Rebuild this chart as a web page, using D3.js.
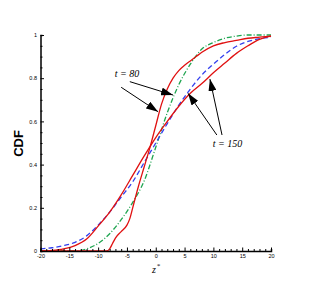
<!DOCTYPE html>
<html>
<head>
<meta charset="utf-8">
<script src="https://cdn.jsdelivr.net/npm/d3@7.9.0/dist/d3.min.js"></script>
<style>
  body { margin: 0; background: #fff; }
  svg { display: block; }
  .tick text { font-family: "Liberation Sans", Arial, sans-serif; font-size: 5.5px; fill: #000; }
</style>
</head>
<body>
<svg id="chart" width="310" height="283"></svg>
<script>
// t = 80, solid red (steep one)
const z80 = [-20, -8.5, -8, -7.5, -7, -6, -5, -4.5, -4, -3, -2, -1, 0, 1, 2, 3, 4, 5, 6, 7, 8, 10, 12, 14, 16, 18, 20];
const cdf80 = [0, 0, 0.01, 0.035, 0.06, 0.09, 0.12, 0.15, 0.2, 0.3, 0.39, 0.48, 0.58, 0.68, 0.75, 0.8, 0.835, 0.86, 0.88, 0.9, 0.92, 0.95, 0.965, 0.975, 0.985, 0.99, 0.995];

// t = 150, solid red (wide one)
const z150 = [-20, -18, -16, -14, -12, -10, -8, -6, -4, -2, 0, 2, 4, 6, 8, 10, 12, 14, 16, 18, 20];
const cdf150 = [0, 0.003, 0.01, 0.025, 0.055, 0.115, 0.18, 0.26, 0.35, 0.44, 0.525, 0.6, 0.67, 0.73, 0.775, 0.825, 0.87, 0.915, 0.95, 0.98, 0.995];

// blue dashed
const zBlue = [-20, -18, -16, -14, -12, -10, -8, -6, -4, -2, 0, 2, 4, 6, 8, 10, 12, 14, 16, 18, 20];
const cdfBlue = [0.01, 0.015, 0.025, 0.04, 0.07, 0.12, 0.18, 0.25, 0.32, 0.41, 0.5, 0.59, 0.675, 0.75, 0.815, 0.865, 0.91, 0.948, 0.97, 0.983, 0.99];

// green dash-dot
const zGreen = [-20, -14, -12, -10, -8, -6, -4, -2, 0, 2, 4, 6, 8, 10, 12, 14, 16, 18, 20];
const cdfGreen = [0, 0, 0.01, 0.035, 0.08, 0.145, 0.225, 0.325, 0.48, 0.64, 0.77, 0.865, 0.935, 0.965, 0.985, 0.995, 1, 1, 1];

const xTicks = [-20, -15, -10, -5, 0, 5, 10, 15, 20];
const yTicks = [0, 0.2, 0.4, 0.6, 0.8, 1];

// annotation arrows, in data units: [tailZ, tailC, tipZ, tipC]
const arrows80 = [[-4.5, 0.784, 3.0, 0.722], [-6.0, 0.758, 0.4, 0.645]];
const arrows150 = [[10.6, 0.537, 5.6, 0.73], [11.5, 0.537, 9.4, 0.796]];
const labels = [{ t: "80", z: -7.1, c: 0.807 }, { t: "150", z: 9.9, c: 0.483 }];

const svg = d3.select('#chart');
const x = d3.scaleLinear().domain([-20, 20]).range([40.5, 271]);
const y = d3.scaleLinear().domain([0, 1]).range([251, 35]);

const line = d3.line()
  .x(d => x(d[0]))
  .y(d => y(d[1]))
  .curve(d3.curveMonotoneX);

const series = [
  { z: zGreen, c: cdfGreen, color: '#1fa550', dash: '5,2,1,2' },
  { z: zBlue, c: cdfBlue, color: '#3340ee', dash: '5,3' },
  { z: z150, c: cdf150, color: '#e01010', dash: null },
  { z: z80, c: cdf80, color: '#e01010', dash: null }
];

series.forEach(s => {
  svg.append('path')
    .attr('d', line(s.z.map((v, i) => [v, s.c[i]])))
    .attr('fill', 'none')
    .attr('stroke', s.color)
    .attr('stroke-width', 1.3)
    .attr('stroke-dasharray', s.dash);
});

// axes (ticks pointing inward)
const xAxis = d3.axisBottom(x).tickValues(d3.range(-20, 21, 1))
  .tickSize(-2)
  .tickFormat(d => xTicks.includes(d) ? d : '');
const gx = svg.append('g').attr('transform', `translate(0,${y(0)})`).call(xAxis);
gx.selectAll('.tick line').attr('y2', d => xTicks.includes(d) ? -3.5 : -2);
gx.selectAll('.tick text').attr('y', 3.5);

const yAxis = d3.axisLeft(y).tickValues(d3.range(0, 1.0001, 0.05).map(v => +v.toFixed(2)))
  .tickSize(-2)
  .tickFormat(d => yTicks.includes(d) ? d : '');
const gy = svg.append('g').attr('transform', `translate(${x(-20)},0)`).call(yAxis);
gy.selectAll('.tick line').attr('x2', d => yTicks.includes(d) ? 3.5 : 2);
gy.selectAll('.tick text').attr('x', -3.5);

[gx, gy].forEach(g => {
  g.select('.domain').attr('stroke', '#000').attr('stroke-width', 1.5);
  g.selectAll('.tick line').attr('stroke', '#000').attr('stroke-width', 1);
});

// axis titles
svg.append('text')
  .attr('transform', `translate(23,143.5) rotate(-90)`)
  .attr('text-anchor', 'middle')
  .attr('font-family', '"Liberation Sans", Arial, sans-serif')
  .attr('font-weight', 'bold')
  .attr('font-size', 13)
  .text('CDF');

const zl = svg.append('text')
  .attr('x', 152)
  .attr('y', 273)
  .attr('font-family', '"Liberation Serif", "Times New Roman", serif')
  .attr('font-style', 'italic')
  .attr('font-size', 10);
zl.append('tspan').text('z');
zl.append('tspan').attr('font-size', 7).attr('dy', -5).attr('dx', 0.5).text('*');

// annotations
svg.append('defs').append('marker')
  .attr('id', 'head')
  .attr('viewBox', '0 0 12 8')
  .attr('refX', 12).attr('refY', 4)
  .attr('markerWidth', 12).attr('markerHeight', 8)
  .attr('markerUnits', 'userSpaceOnUse')
  .attr('orient', 'auto')
  .append('path').attr('d', 'M0,0L12,4L0,8Z').attr('fill', '#000');

arrows80.concat(arrows150).forEach(a => {
  svg.append('line')
    .attr('x1', x(a[0])).attr('y1', y(a[1]))
    .attr('x2', x(a[2])).attr('y2', y(a[3]))
    .attr('stroke', '#000').attr('stroke-width', 1)
    .attr('marker-end', 'url(#head)');
});

labels.forEach(l => {
  svg.append('text')
    .attr('x', x(l.z)).attr('y', y(l.c))
    .attr('font-family', '"Liberation Serif", "Times New Roman", serif')
    .attr('font-style', 'italic')
    .attr('font-size', 10)
    .text(`t = ${l.t}`);
});
</script>
</body>
</html>
